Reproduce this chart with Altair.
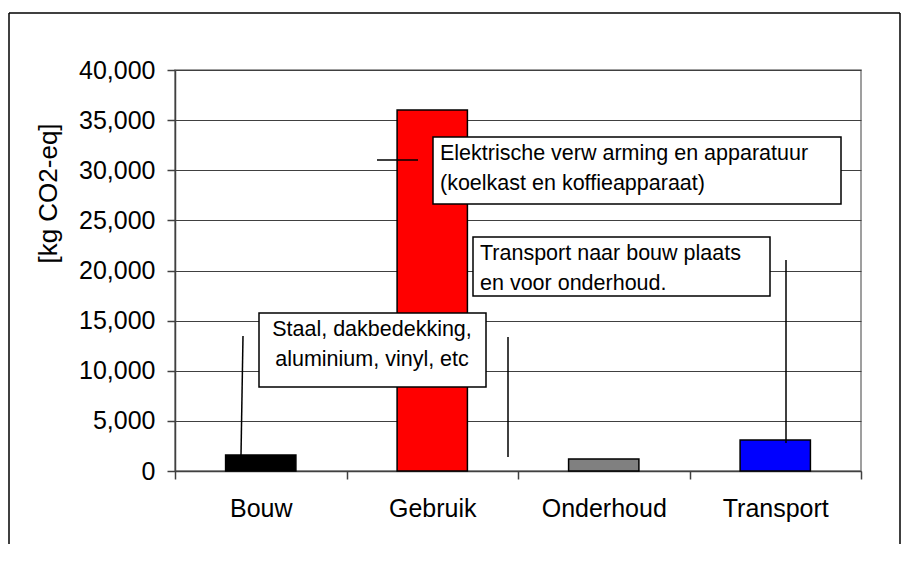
import altair as alt
import pandas as pd

# ---- data ----
categories = ["Bouw", "Gebruik", "Onderhoud", "Transport"]
values = [1600, 36000, 1200, 3100]
bar_colors = ["#000000", "#FF0000", "#808080", "#0000FF"]
y_ticks = [0, 5000, 10000, 15000, 20000, 25000, 30000, 35000, 40000]
y_title = "[kg CO2-eq]"

note_elektrisch = ["Elektrische verw arming en apparatuur", "(koelkast en koffieapparaat)"]
note_transport = ["Transport naar bouw plaats", "en voor onderhoud."]
note_staal = ["Staal, dakbedekking,", "aluminium, vinyl, etc"]

df = pd.DataFrame({"cat": categories, "val": values, "col": bar_colors})
one = pd.DataFrame({"k": [0]})

FONT = "Liberation Sans"
W, H = 686, 401

bars = alt.Chart(df).mark_bar(
    width={"band": 0.41}, stroke="black", strokeWidth=1.5
).encode(
    x=alt.X(
        "cat:N", sort=categories,
        scale=alt.Scale(paddingInner=0, paddingOuter=0),
        axis=alt.Axis(
            title=None, labelAngle=0, labelFontSize=25, labelPadding=17,
            tickSize=8, tickBand="extent", domainColor="#404040", domainWidth=1.5,
            tickColor="#404040", tickWidth=1.5, labelColor="black", grid=False,
            labelFont=FONT,
        ),
    ),
    y=alt.Y(
        "val:Q",
        scale=alt.Scale(domain=[0, 40000], nice=False),
        axis=alt.Axis(
            title=y_title, values=y_ticks, format=",.0f", labelFontSize=25,
            labelFont=FONT, labelColor="black", labelPadding=12, tickSize=8,
            tickColor="#404040", tickWidth=1.5, domainColor="#404040",
            domainWidth=1.5, gridColor="#404040", gridWidth=1,
            titleFont=FONT, titleFontSize=26, titleFontWeight="normal",
            titleColor="black", titleAngle=270, titleX=-127, titleY=123,
            titleAlign="center", titleBaseline="middle",
        ),
    ),
    color=alt.Color("col:N", scale=None, legend=None),
)


def rule(x, y, x2, y2, w=1.5):
    return alt.Chart(one).mark_rule(color="black", strokeWidth=w).encode(
        x=alt.value(x), y=alt.value(y), x2=alt.value(x2), y2=alt.value(y2)
    )


def box(x, y, x2, y2):
    return alt.Chart(one).mark_rect(fill="white", stroke="black", strokeWidth=1.5).encode(
        x=alt.value(x), y=alt.value(y), x2=alt.value(x2), y2=alt.value(y2)
    )


def label(lines, x, y, align="left"):
    return alt.Chart(one).mark_text(
        text=lines, font=FONT, fontSize=21.5, align=align, baseline="alphabetic",
        lineHeight=30, color="black"
    ).encode(x=alt.value(x), y=alt.value(y))


layers = [
    bars,
    # leader lines
    rule(202, 90, 243, 90),
    rule(68, 266, 66, 385),
    rule(333, 267, 333, 387),
    rule(611, 190, 611, 373),
    # boxes
    box(258, 67, 666, 134),
    label(note_elektrisch, 265, 90),
    box(298, 167, 595, 226),
    label(note_transport, 305, 190),
    box(84, 243, 311, 317),
    label(note_staal, 197, 266, align="center"),
    # outer frame
    rule(-166, -57, -166, 474, 1.5),
    rule(-166, -57, 725, -57, 1.5),
    rule(725, -57, 725, 474, 1.5),
]

chart = alt.layer(*layers).properties(
    width=W, height=H,
    padding={"left": 0, "top": 4, "right": 0, "bottom": 0},
    background="white",
).configure_view(stroke="#808080", strokeWidth=1.5)

chart.save("out.html", embed_options={"renderer": "svg", "actions": False})
